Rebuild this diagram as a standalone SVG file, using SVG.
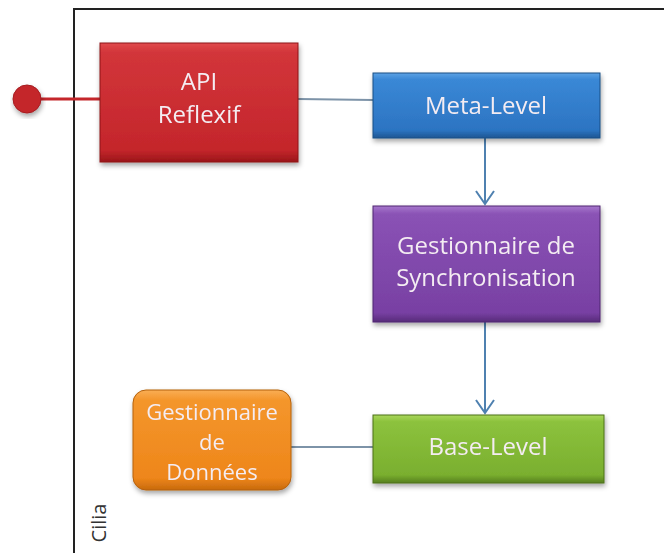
<svg xmlns="http://www.w3.org/2000/svg" width="664" height="555" viewBox="0 0 664 555">
<defs>
<style>
.lbl{font-family:"Open Sans","Liberation Sans",sans-serif;font-size:24px;fill:#f4ecf2;text-anchor:middle}
.sm{font-size:22px}
.conn{stroke:#7d93a8;stroke-width:2;fill:none}
.arr{stroke:#4f81b0;stroke-width:2;fill:none}
.box{filter:url(#sh)}
</style>
<filter id="sh" x="-10%" y="-10%" width="125%" height="130%">
<feDropShadow dx="1" dy="3" stdDeviation="2.5" flood-color="#000" flood-opacity="0.35"/>
</filter>
<linearGradient id="gRed" x1="0" y1="0" x2="0" y2="1">
<stop offset="0" stop-color="#e0494b"/><stop offset="0.08" stop-color="#d2353a"/><stop offset="0.9" stop-color="#c4262b"/><stop offset="1" stop-color="#9a161a"/>
</linearGradient>
<linearGradient id="gBlue" x1="0" y1="0" x2="0" y2="1">
<stop offset="0" stop-color="#5da2e4"/><stop offset="0.1" stop-color="#3a88d6"/><stop offset="0.88" stop-color="#2c74c2"/><stop offset="1" stop-color="#1d5592"/>
</linearGradient>
<linearGradient id="gPurple" x1="0" y1="0" x2="0" y2="1">
<stop offset="0" stop-color="#a677cc"/><stop offset="0.07" stop-color="#8a52b5"/><stop offset="0.92" stop-color="#7840a3"/><stop offset="1" stop-color="#572b79"/>
</linearGradient>
<linearGradient id="gGreen" x1="0" y1="0" x2="0" y2="1">
<stop offset="0" stop-color="#a9d65a"/><stop offset="0.1" stop-color="#8cc23d"/><stop offset="0.88" stop-color="#7aaf2f"/><stop offset="1" stop-color="#567f1f"/>
</linearGradient>
<linearGradient id="gOrange" x1="0" y1="0" x2="0" y2="1">
<stop offset="0" stop-color="#f9ae55"/><stop offset="0.1" stop-color="#f4962c"/><stop offset="0.88" stop-color="#ee861a"/><stop offset="1" stop-color="#c86a0d"/>
</linearGradient>
</defs>
<rect width="664" height="555" fill="#ffffff"/>

<g id="container">
<path d="M74,553 L74,9 L664,9" fill="none" stroke="#222" stroke-width="2"/>
<text transform="translate(106,523) rotate(-90)" font-family="'Open Sans','Liberation Sans',sans-serif" font-size="20" fill="#333" text-anchor="middle">Cilia</text>
</g>

<g id="connectors">
<line x1="40" y1="99" x2="100" y2="99" stroke="#c4262b" stroke-width="3"/>
<line class="conn" x1="298" y1="99" x2="373" y2="100"/>
<line class="arr" x1="485" y1="138" x2="485" y2="204"/>
<path class="arr" d="M476,191 L485,204 L494,191"/>
<line class="arr" x1="485" y1="322" x2="485" y2="413"/>
<path class="arr" d="M476,400 L485,413 L494,400"/>
<line class="conn" x1="291" y1="447" x2="373" y2="447"/>
</g>

<g id="port">
<circle cx="27" cy="99" r="14" fill="#c4262b" stroke="#a51c20" stroke-width="1" filter="url(#sh)"/>
</g>

<g id="api-reflexif" class="box">
<rect x="100" y="43" width="198" height="119" fill="url(#gRed)" stroke="#8e1518" stroke-width="1"/>
<text class="lbl" x="199" y="90">API</text>
<text class="lbl" x="199" y="123">Reflexif</text>
</g>

<g id="meta-level" class="box">
<rect x="373" y="73" width="227" height="65" fill="url(#gBlue)" stroke="#1b4f86" stroke-width="1"/>
<text class="lbl" x="486" y="114">Meta-Level</text>
</g>

<g id="sync" class="box">
<rect x="373" y="206" width="227" height="116" fill="url(#gPurple)" stroke="#4f2770" stroke-width="1"/>
<text class="lbl" x="486" y="254">Gestionnaire de</text>
<text class="lbl" x="486" y="286">Synchronisation</text>
</g>

<g id="base-level" class="box">
<rect x="373" y="415" width="231" height="68" fill="url(#gGreen)" stroke="#4d7019" stroke-width="1"/>
<text class="lbl" x="488" y="455">Base-Level</text>
</g>

<g id="donnees" class="box">
<rect x="133" y="390" width="158" height="100" rx="13" ry="13" fill="url(#gOrange)" stroke="#b5610c" stroke-width="1"/>
<text class="lbl sm" x="212" y="420">Gestionnaire</text>
<text class="lbl sm" x="212" y="450">de</text>
<text class="lbl sm" x="212" y="480">Données</text>
</g>
</svg>
